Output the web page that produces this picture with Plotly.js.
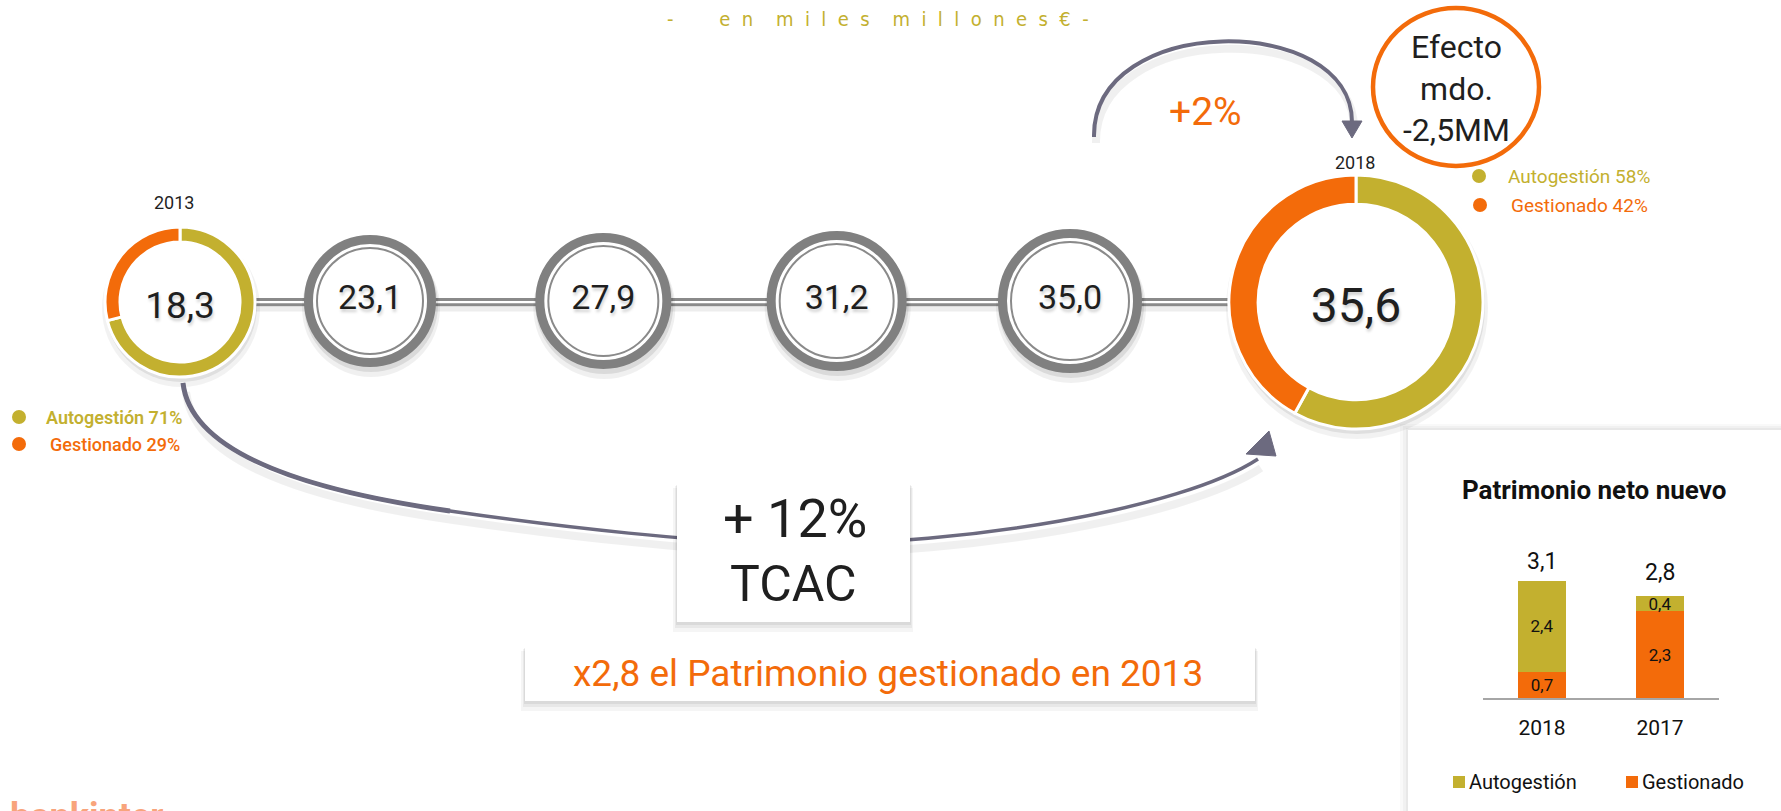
<!DOCTYPE html>
<html>
<head>
<meta charset="utf-8">
<script src="https://cdn.plot.ly/plotly-3.0.1.min.js"></script>
<style>
html, body { margin:0; padding:0; background:#ffffff; overflow:hidden; }
#chart { width:1781px; height:811px; }
</style>
</head>
<body>
<div id="chart"></div>
<script>
// ---------------- DATA ----------------
const years = ['2013', '2014', '2015', '2016', '2017', '2018'];
const totals = [18.3, 23.1, 27.9, 31.2, 35.0, 35.6];      // miles de millones €
const shareLabels = ['Autogestión', 'Gestionado'];
const share2013 = [71, 29];
const share2018 = [58, 42];
const nnCategories = ['2018', '2017'];
const nnAutogestion = [2.4, 0.4];
const nnGestionado = [0.7, 2.3];
const nnTotals = [3.1, 2.8];
const growthPct = 2;          // 2017 -> 2018
const cagrPct = 12;           // TCAC
const managedMultiple = 2.8;  // x2,8 gestionado vs 2013
const marketEffect = -2.5;    // Efecto mercado (MM)

// ---------------- STYLE / GEOMETRY ----------------
const W = 1781, H = 811;
const OLIVE = '#c3b02f', ORANGE = '#f36b0a', RING = '#808080', INK = '#1f1f1f', ARROW = '#6c6a7f';
const FONT = 'Roboto, "Open Sans", sans-serif';
const px = x => x / W;
const py = y => 1 - y / H;
const P = (x, y) => px(x).toFixed(5) + ',' + py(y).toFixed(5);
const fmt = v => v.toFixed(1).replace('.', ',');

const donut13 = {cx: 180, cy: 302, r: 75, hole: 0.8};
const donut18 = {cx: 1356, cy: 302, r: 127, hole: 0.77};
const tlCenterY = 301;
const tlFirstPx = 370, tlLastPx = 1070;          // pixel centres of first / last grey ring
const ringR = [66, 68, 70, 72];                  // outer radius of each grey ring
const k = (tlLastPx - tlFirstPx) / 3;
const r0 = 1 - tlFirstPx / k;
const r1 = r0 + W / k;
const yc = py(tlCenterY);

const midYears = years.slice(1, 5);
const midTotals = totals.slice(1, 5);
const zeros = midYears.map(() => 0);

// ---------------- TRACES ----------------
const traces = [];

traces.push({
  type: 'scatter', mode: 'markers', x: midYears, y: zeros, xaxis: 'x', yaxis: 'y',
  marker: {size: ringR.map(r => 2 * (r - 4.5)), color: '#ffffff', opacity: 1, line: {color: RING, width: 9}},
  hoverinfo: 'skip', showlegend: false
});
traces.push({
  type: 'scatter', mode: 'markers', x: midYears, y: zeros, xaxis: 'x', yaxis: 'y',
  marker: {size: ringR.map(r => 2 * (r - 13)), color: '#ffffff', opacity: 1, line: {color: '#8a8a8a', width: 2}},
  hoverinfo: 'skip', showlegend: false
});
traces.push({
  type: 'scatter', mode: 'text', x: midYears, y: zeros, xaxis: 'x', yaxis: 'y',
  text: midTotals.map(fmt), textposition: 'middle center',
  textfont: {family: FONT, size: 34, color: INK, shadow: '1px 3px 3px rgba(0,0,0,0.18)'},
  hoverinfo: 'skip', showlegend: false
});
traces.push({
  type: 'scatter', mode: 'markers+text', x: midYears, y: zeros, xaxis: 'x', yaxis: 'y',
  marker: {size: 124, color: 'rgba(0,0,0,0)'},
  text: midYears, textposition: 'top center',
  textfont: {family: FONT, size: 18, color: INK},
  hoverinfo: 'skip', showlegend: false
});

function donut(values, d, titleSize, totalVal) {
  return {
    type: 'pie', values: values, labels: shareLabels, sort: false,
    direction: 'clockwise', rotation: 0, hole: d.hole,
    domain: {x: [px(d.cx - d.r), px(d.cx + d.r)], y: [py(d.cy + d.r), py(d.cy - d.r)]},
    marker: {colors: [OLIVE, ORANGE], line: {color: '#ffffff', width: 3}},
    textinfo: 'none', hoverinfo: 'skip', showlegend: false,
    title: {text: fmt(totalVal), position: 'middle center',
            font: {family: FONT, size: titleSize, color: INK, shadow: '1px 3px 3px rgba(0,0,0,0.18)'}}
  };
}
traces.push(donut(share2013, donut13, 37, totals[0]));
traces.push(donut(share2018, donut18, 48, totals[5]));

traces.push({
  type: 'bar', name: shareLabels[1], x: nnCategories, y: nnGestionado, xaxis: 'x2', yaxis: 'y2',
  marker: {color: ORANGE}, text: nnGestionado.map(fmt), textposition: 'inside',
  insidetextanchor: 'middle', constraintext: 'none', textangle: 0,
  textfont: {family: FONT, size: 17, color: '#111111'}, hoverinfo: 'skip', showlegend: false
});
traces.push({
  type: 'bar', name: shareLabels[0], x: nnCategories, y: nnAutogestion, xaxis: 'x2', yaxis: 'y2',
  marker: {color: OLIVE}, text: nnAutogestion.map(fmt), textposition: 'inside',
  insidetextanchor: 'middle', constraintext: 'none', textangle: 0,
  textfont: {family: FONT, size: 17, color: '#111111'}, hoverinfo: 'skip', showlegend: false
});

// ---------------- SHAPES ----------------
const shapes = [];
const rect = (x0, y0, x1, y1, fill, layer) => ({type: 'rect', xref: 'paper', yref: 'paper',
  x0: px(x0), x1: px(x1), y0: py(y1), y1: py(y0), fillcolor: fill, line: {width: 0}, layer: layer || 'below'});
const circ = (cx, cy, rx, ry, fill, line) => ({type: 'circle', xref: 'paper', yref: 'paper',
  x0: px(cx - rx), x1: px(cx + rx), y0: py(cy + ry), y1: py(cy - ry), fillcolor: fill,
  line: line || {width: 0}, layer: 'below'});
const path = (d, color, width, fill) => ({type: 'path', xref: 'paper', yref: 'paper', path: d,
  line: {color: color, width: width}, fillcolor: fill || 'rgba(0,0,0,0)', layer: 'below'});

// right panel with soft shadow
shapes.push(rect(1400, 424, W + 5, H + 5, 'rgba(0,0,0,0.025)'));
shapes.push(rect(1403, 426, W + 5, H + 5, 'rgba(0,0,0,0.03)'));
shapes.push(rect(1406, 428, W + 5, H + 5, 'rgba(0,0,0,0.035)'));
shapes.push(rect(1408, 430, W + 5, H + 5, '#ffffff'));

// connector double line
const cx0 = donut13.cx + donut13.r - 3, cx1 = donut18.cx - donut18.r + 3;
[[309, 'rgba(0,0,0,0.07)', 5], [299.5, '#8a8a8a', 3], [304.8, '#8a8a8a', 3]].forEach(([yy, c, w]) => {
  shapes.push({type: 'line', xref: 'paper', yref: 'paper', x0: px(cx0), x1: px(cx1), y0: py(yy), y1: py(yy),
    line: {color: c, width: w}, layer: 'below'});
});

// ring shadows
ringR.forEach((r, i) => {
  const cx = tlFirstPx + i * k;
  shapes.push(circ(cx + 1, tlCenterY + 7, r + 3, r + 3, 'rgba(0,0,0,0.06)'));
  shapes.push(circ(cx + 1, tlCenterY + 4, r + 1, r + 1, 'rgba(0,0,0,0.09)'));
});
// donut shadows + white interior (pie hole is transparent)
[donut13, donut18].forEach(d => {
  shapes.push(circ(d.cx + 1, d.cy + 6, d.r + 4, d.r + 4, 'rgba(0,0,0,0.05)'));
  shapes.push(circ(d.cx + 1, d.cy + 4, d.r + 1, d.r + 1, 'rgba(0,0,0,0.08)'));
  shapes.push(circ(d.cx, d.cy, d.r * d.hole + 2, d.r * d.hole + 2, '#ffffff'));
});

// bottom long arrow (2013 -> 2018)
const bottomPath = `M${P(183,383)} C${P(190,445)} ${P(280,487)} ${P(450,511)} C${P(560,527)} ${P(700,543)} ${P(800,544)} C${P(960,545)} ${P(1180,510)} ${P(1258,459)}`;
const bottomShadow = `M${P(186,392)} C${P(193,454)} ${P(283,496)} ${P(453,520)} C${P(563,536)} ${P(703,552)} ${P(803,553)} C${P(963,554)} ${P(1183,519)} ${P(1261,468)}`;
shapes.push(path(bottomShadow, 'rgba(0,0,0,0.06)', 8));
shapes.push(path(bottomPath, ARROW, 3.5));
shapes.push(path(`M${P(183,383)} C${P(190,445)} ${P(280,487)} ${P(450,511)}`, ARROW, 5));
shapes.push(path(`M${P(1246,454)} L${P(1269,431)} L${P(1276,456)} Z`, ARROW, 1, ARROW));

// top arc arrow (2017 -> 2018)
shapes.push(path(`M${P(1096,143)} C${P(1094,20)} ${P(1354,20)} ${P(1354,128)}`, 'rgba(0,0,0,0.06)', 8));
shapes.push(path(`M${P(1094,137)} C${P(1092,12)} ${P(1352,12)} ${P(1352,122)}`, ARROW, 4));
shapes.push(path(`M${P(1342,121)} L${P(1362,121)} L${P(1352,138)} Z`, ARROW, 1, ARROW));

// +12% TCAC box
shapes.push(rect(673, 488, 913, 632, 'rgba(0,0,0,0.04)'));
shapes.push(rect(675, 486, 912, 628, 'rgba(0,0,0,0.05)'));
shapes.push(rect(676, 485, 911, 625, 'rgba(0,0,0,0.06)'));
shapes.push(rect(677, 484, 910, 622, '#ffffff'));
// x2,8 box
shapes.push(rect(521, 651, 1258, 711, 'rgba(0,0,0,0.04)'));
shapes.push(rect(523, 649, 1257, 707, 'rgba(0,0,0,0.05)'));
shapes.push(rect(524, 648, 1256, 704, 'rgba(0,0,0,0.06)'));
shapes.push(rect(525, 647, 1255, 701, '#ffffff'));

// Efecto mercado ellipse
shapes.push(circ(1456, 87, 83, 79, '#ffffff', {color: ORANGE, width: 4.5}));

// legend dots
shapes.push(circ(19, 417, 7, 7, OLIVE));
shapes.push(circ(19, 444, 7, 7, ORANGE));
shapes.push(circ(1479, 176, 7, 7, OLIVE));
shapes.push(circ(1480, 205, 7, 7, ORANGE));
// bar legend squares
shapes.push(rect(1453, 776, 1465, 788, OLIVE));
shapes.push(rect(1626, 776, 1638, 788, ORANGE));

// ---------------- ANNOTATIONS ----------------
const ann = (text, x, y, font, opts) => Object.assign({
  text: text, x: px(x), y: py(y), xref: 'paper', yref: 'paper', showarrow: false,
  xanchor: 'center', yanchor: 'middle', font: Object.assign({family: FONT, size: 18, color: INK}, font)
}, opts || {});

const spaced = w => w.split('').join('\u00a0\u00a0');
const subtitle = '-' + '\u00a0'.repeat(8) + ['en', 'miles', 'millones€'].map(spaced).join('\u00a0'.repeat(4)) + '\u00a0\u00a0-';

const annotations = [
  ann(subtitle, 878, 19, {family: '"Liberation Sans Narrow", "DejaVu Sans Condensed", sans-serif', size: 20, color: OLIVE}),
  ann(years[0], 174, 202, {size: 18}),
  ann(years[5], 1355, 162, {size: 18}),
  ann(`${shareLabels[0]} ${share2013[0]}%`, 44, 417, {size: 18, color: OLIVE, weight: 600}, {xanchor: 'left'}),
  ann(`${shareLabels[1]} ${share2013[1]}%`, 48, 445, {size: 18, color: ORANGE, weight: 500}, {xanchor: 'left'}),
  ann(`${shareLabels[0]} ${share2018[0]}%`, 1506, 176, {size: 19, color: OLIVE}, {xanchor: 'left'}),
  ann(`${shareLabels[1]} ${share2018[1]}%`, 1509, 205, {size: 19, color: ORANGE}, {xanchor: 'left'}),
  ann(`+${growthPct}%`, 1205, 112, {size: 39, color: ORANGE}),
  ann(`Efecto<br>mdo.<br>${fmt(marketEffect)}MM`, 1456, 88, {size: 32, color: INK}),
  ann(`+ ${cagrPct}%`, 795, 518, {size: 54, color: INK}),
  ann('TCAC', 793, 584, {size: 50, color: INK}),
  ann(`x${fmt(managedMultiple)} el Patrimonio gestionado en 2013`, 888, 673, {size: 37, color: ORANGE}),
  ann('Patrimonio neto nuevo', 1594, 490, {size: 26, color: '#111111', weight: 700}),
  ann(shareLabels[0], 1467, 782, {size: 20, color: '#111111'}, {xanchor: 'left'}),
  ann(shareLabels[1], 1640, 782, {size: 20, color: '#111111'}, {xanchor: 'left'}),
  ann('bankinter', 8, 794, {size: 36, color: '#f8a47c', weight: 700}, {xanchor: 'left', yanchor: 'top'})
];
// totals above bars (x given as category index on the category axis)
nnCategories.forEach((c, i) => {
  annotations.push({text: fmt(nnTotals[i]), x: i, y: nnTotals[i], xref: 'x2', yref: 'y2',
    showarrow: false, yanchor: 'bottom', yshift: 4, font: {family: FONT, size: 23, color: '#111111'}});
});

// ---------------- LAYOUT ----------------
const layout = {
  width: W, height: H, margin: {l: 0, r: 0, t: 0, b: 0},
  paper_bgcolor: '#ffffff', plot_bgcolor: 'rgba(0,0,0,0)',
  showlegend: false, barmode: 'stack', bargap: 0.6,
  xaxis: {domain: [0, 1], type: 'category', categoryorder: 'array', categoryarray: years,
          range: [r0, r1], visible: false, fixedrange: true},
  yaxis: {domain: [yc - 0.1, yc + 0.1], range: [-1, 1], visible: false, fixedrange: true},
  xaxis2: {domain: [px(1483), px(1719)], anchor: 'y2', type: 'category', categoryorder: 'array',
           categoryarray: nnCategories, range: [-0.5, 1.5], showline: true,
           linecolor: '#a6a6a6', linewidth: 2, ticks: '', showgrid: false, zeroline: false,
           tickfont: {family: FONT, size: 21, color: '#111111'}, ticklabelstandoff: 10, fixedrange: true},
  yaxis2: {domain: [py(698), py(562)], anchor: 'x2', range: [0, 3.6], visible: false, fixedrange: true},
  shapes: shapes,
  annotations: annotations
};

Plotly.newPlot('chart', traces, layout, {displayModeBar: false, staticPlot: true});
</script>
</body>
</html>
